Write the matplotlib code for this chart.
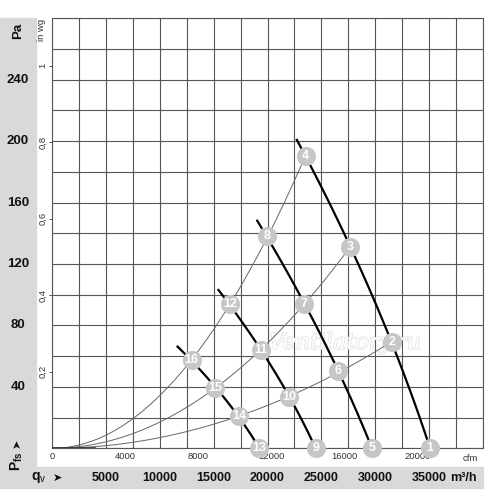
import numpy as np
import matplotlib
matplotlib.use('Agg')
import matplotlib.pyplot as plt
from matplotlib.patches import Rectangle
from matplotlib import transforms
import matplotlib.patheffects as pe

plt.rcParams['font.family'] = ['Liberation Sans', 'DejaVu Sans']
plt.rcParams['mathtext.fontset'] = 'custom'
plt.rcParams['mathtext.rm'] = 'Liberation Sans'
plt.rcParams['mathtext.bf'] = 'Liberation Sans:bold'

# operating points 1..16 (q in m3/h, p in Pa)
pt_num = [1, 2, 3, 4, 5, 6, 7, 8, 9, 10, 11, 12, 13, 14, 15, 16]
pt_q = [35100, 31570, 27670, 23550, 29710, 26580, 23420, 19980,
        24480, 22030, 19370, 16520, 19210, 17380, 15120, 12960]
pt_p = [0, 69, 131, 190.5, 0, 50.5, 94, 138,
        0, 33.5, 64, 94, 0, 21, 39, 57.5]

# upper end of each fan curve (above points 4, 8, 12, 16)
top_q = [22710, 19000, 15370, 11620]
top_p = [200.8, 148.2, 103.1, 66.2]

fan_groups = [[1, 2, 3, 4], [5, 6, 7, 8], [9, 10, 11, 12], [13, 14, 15, 16]]
sys_groups = [[4, 8, 12, 16], [3, 7, 11, 15], [2, 6, 10, 14]]

pa_ticks = [40, 80, 120, 160, 200, 240]
inwg_ticks = [0.2, 0.4, 0.6, 0.8, 1.0]
inwg_labels = ['0,2', '0,4', '0,6', '0,8', '1']
cfm_ticks = [0, 4000, 8000, 12000, 16000, 20000]
m3h_ticks = [5000, 10000, 15000, 20000, 25000, 30000, 35000]

PA_PER_INWG = 249.09
M3H_PER_CFM = 1.699

fig = plt.figure(figsize=(5, 4.9), dpi=100)
W, H = 500, 490
gray = '#d9d9d9'
fig.patches.append(Rectangle((0, (H - 467) / H), 35.7 / W, (467 - 18) / H,
                             transform=fig.transFigure, color=gray, zorder=-5))
fig.patches.append(Rectangle((0, (H - 488.3) / H), 482.7 / W, (488.3 - 466.7) / H,
                             transform=fig.transFigure, color=gray, zorder=-5))

ax = fig.add_axes([52.3 / W, (H - 448.3) / H, 430.4 / W, 430 / H])
ax.set_xlim(0, 40000)
ax.set_ylim(0, 280)
ax.set_xticks(np.arange(0, 40001, 2500))
ax.set_yticks(np.arange(0, 281, 20))
ax.set_xticklabels([])
ax.set_yticklabels([])
ax.tick_params(length=0)
gcol = '#555555'
ax.grid(True, color=gcol, lw=0.8)
for s in ax.spines.values():
    s.set_color(gcol)
    s.set_linewidth(0.8)

q = dict(zip(pt_num, pt_q))
p = dict(zip(pt_num, pt_p))

# system curves (parabolas through origin fitted to the points)
for g in sys_groups:
    qq = np.array([q[n] for n in g])
    pp = np.array([p[n] for n in g])
    k = np.sum(pp * qq**2) / np.sum(qq**4)
    xs = np.linspace(0, qq.max(), 200)
    ax.plot(xs, k * xs**2, color='#666666', lw=0.7, zorder=3)
ax.plot([0, 4000], [0, 0], color='#333333', lw=1.2, zorder=3)

# fan curves
for i, g in enumerate(fan_groups):
    qq = [q[n] for n in g] + [top_q[i]]
    pp = [p[n] for n in g] + [top_p[i]]
    c = np.polyfit(pp, qq, 2)
    ys = np.linspace(min(pp), max(pp), 100)
    ax.plot(np.polyval(c, ys), ys, color='black', lw=1.6, zorder=4,
            clip_on=False)

ax.scatter(pt_q, pt_p, s=190, color='#c6c6c6', zorder=5, clip_on=False,
           linewidths=0)
for n in pt_num:
    ax.text(q[n], p[n], str(n), color='white', fontsize=9, fontweight='bold',
            ha='center', va='center', zorder=6)

ax.text(0.68, 0.245, 'Ventilatory.ru', transform=ax.transAxes, fontsize=16,
        fontstyle='italic', family='DejaVu Serif', color='white', ha='center',
        va='center', zorder=2,
        path_effects=[pe.withStroke(linewidth=1.0, foreground='#dedede')])

# cfm axis
secx = ax.secondary_xaxis('bottom', functions=(lambda x: x / M3H_PER_CFM,
                                               lambda x: x * M3H_PER_CFM))
secx.set_xticks(cfm_ticks)
secx.set_xticklabels([str(v) for v in cfm_ticks])
secx.tick_params(length=0, labelsize=6.8, colors='#333333', pad=3)
secx.spines['bottom'].set_visible(False)
fig.text(470 / W, (H - 458) / H, 'cfm', fontsize=6.8, color='#333333',
         ha='center', va='center')

# in wg axis
secy = ax.secondary_yaxis('left', functions=(lambda y: y / PA_PER_INWG,
                                             lambda y: y * PA_PER_INWG))
secy.set_yticks(inwg_ticks)
secy.set_yticklabels(inwg_labels, rotation=90, va='center')
secy.tick_params(length=2.5, width=0.6, labelsize=6.8, colors='#333333', pad=1)
secy.spines['left'].set_visible(False)
fig.text(42 / W, (H - 30) / H, 'in wg', rotation=90, fontsize=6.8,
         color='#333333', ha='center', va='center')

# Pa labels
tr_y = transforms.blended_transform_factory(fig.transFigure, ax.transData)
for v in pa_ticks:
    fig.text(18 / W, v, str(v), transform=tr_y, fontsize=9.5, fontweight='bold',
             ha='center', va='center', color='#111111')
fig.text(18 / W, (H - 31) / H, 'Pa', rotation=90, fontsize=9.5,
         fontweight='bold', ha='center', va='center', color='#111111')

# m3/h labels
tr_x = transforms.blended_transform_factory(ax.transData, fig.transFigure)
for v in m3h_ticks:
    fig.text(v, (H - 478) / H, str(v), transform=tr_x, fontsize=9,
             fontweight='bold', ha='center', va='center', color='#111111')
fig.text(450 / W, (H - 478) / H, 'm³/h', fontsize=9, fontweight='bold',
         ha='left', va='center', color='#111111')

fig.text(39 / W, (H - 477) / H, r'q$_{\mathrm{v}}$', fontsize=10,
         fontweight='bold', ha='center', va='center', color='#111111')
fig.text(57 / W, (H - 478) / H, '➤', fontsize=8, family='DejaVu Sans',
         ha='center', va='center', color='#111111')
fig.text(17 / W, (H - 461) / H, r'$\mathbf{P}_{\mathbf{fs}}$', rotation=90,
         fontsize=10, ha='center', va='center', color='#111111')
fig.text(17 / W, (H - 443) / H, '➤', rotation=90, fontsize=8,
         family='DejaVu Sans', ha='center', va='center', color='#111111')

fig.savefig('out.png', dpi=100)
